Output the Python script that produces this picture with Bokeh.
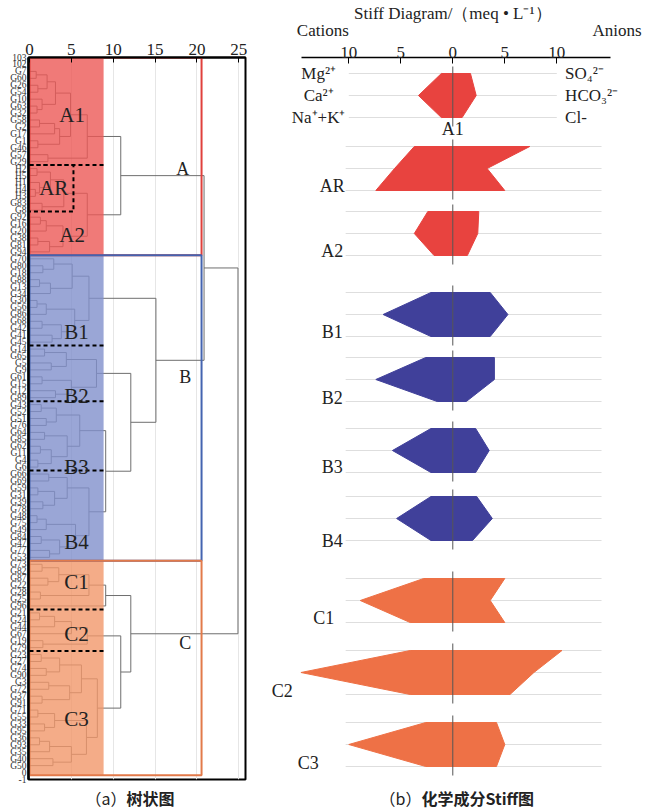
from bokeh.plotting import figure
from bokeh.layouts import row, column
from bokeh.models import Range1d, FixedTicker
from bokeh.embed import file_html
from bokeh.resources import INLINE
from bokeh.core.properties import value

SERIF = "Liberation Serif"
CJK = "Noto Sans CJK SC"

# ---------------- data: dendrogram ----------------
leaves_A1 = ["G7", "G60", "G26", "G54", "G10", "G63", "G32", "G58", "G2", "G17", "G1", "G46", "G57", "G29"]
leaves_AR = ["H2", "H5", "H1", "H4", "H3", "G83", "G8"]
leaves_A2 = ["G92", "G16", "G20", "G38", "G81", "G94"]
leaves_B1 = ["G70", "G80", "G18", "G88", "G13", "G34", "G30", "G56", "G86", "G68", "G42", "G41", "G45"]
leaves_B2 = ["G14", "G65", "G5", "G9", "G61", "G15", "G12", "G89"]
leaves_B3 = ["G43", "G52", "G51", "G76", "G64", "G85", "G62", "G11", "G4", "G6"]
leaves_B4 = ["G66", "G69", "G59", "G31", "G39", "G78", "G48", "G75", "G49", "G84", "G47", "G77", "G53"]
leaves_C1 = ["G73", "G82", "G87", "G22", "G28", "G25", "G96"]
leaves_C2 = ["G21", "G24", "G44", "G67", "G19", "G79"]
leaves_C3 = ["G23", "G27", "G74", "G90", "G3", "G72", "G37", "G91", "G71", "G55", "G33", "G95", "G36", "G93", "G35", "G40", "G50"]

# nested merges: [distance, left, right]
tree_A1 = [6.9, [4.9, [3.1, [2.1, [0.8, "G7", "G60"], [1.0, "G26", "G54"]], [1.5, "G10", [0.9, "G63", "G32"]]],
                 [3.6, [3.0, [1.2, "G58", "G2"], "G17"], [1.0, "G1", "G46"]]],
           [2.2, "G57", "G29"]]
tree_AR = [4.1, [2.5, [0.9, "H2", "H5"], [1.2, "H1", [0.7, "H4", "H3"]]], [1.5, "G83", "G8"]]
tree_A2 = [4.0, [2.0, [1.3, "G92", "G16"], "G20"], [2.4, [1.0, "G38", "G81"], "G94"]]
tree_B1 = [7.1, [5.1, [2.9, "G70", [1.6, "G80", "G18"]], [2.5, [1.2, "G88", "G13"], "G34"]],
           [5.4, [2.0, [0.9, "G30", "G56"], "G86"], [3.8, [1.5, "G68", "G42"], [2.7, "G41", "G45"]]]]
tree_B2 = [8.0, [4.4, [1.8, "G14", "G65"], [2.6, "G5", "G9"]], [5.0, [1.5, "G61", "G15"], [3.1, "G12", "G89"]]]
tree_B3 = [6.0, [3.2, [1.4, "G43", "G52"], [2.0, "G51", "G76"]],
           [4.5, [1.8, "G64", "G85"], [2.6, [1.3, "G62", "G11"], [1.0, "G4", "G6"]]]]
tree_B4 = [7.1, [4.5, [2.3, "G66", "G69"], [3.0, [1.0, "G59", "G31"], [1.6, "G39", "G78"]]],
           [5.5, [2.0, [0.9, "G48", "G75"], "G49"], [3.6, [1.4, "G84", "G47"], [2.4, "G77", "G53"]]]]
tree_C1 = [9.1, [7.1, [3.5, [1.5, "G73", "G82"], [2.2, "G87", "G22"]], [1.3, "G28", "G25"]], "G96"]
tree_C2 = [6.9, [5.0, [3.0, [1.2, "G21", "G24"], "G44"], "G67"], [1.6, "G19", "G79"]]
tree_C3 = [8.1, [6.2, [3.6, [1.4, "G23", "G27"], [2.0, "G74", "G90"]], [4.8, [2.3, "G3", "G72"], [1.5, "G37", "G91"]]],
           [6.8, [3.0, [1.0, "G71", "G55"], [1.8, "G33", "G95"]], [5.0, [2.4, [1.2, "G36", "G93"], "G35"], [2.8, "G40", "G50"]]]]
h_ARA2, h_A, h_B34, h_B234, h_B, h_C23, h_C, h_AB, h_root = 6.9, 10.9, 9.1, 12.1, 15.1, 10.9, 12.1, 20.85, 24.9

tree = [h_root,
        [h_AB,
         [h_A, tree_A1, [h_ARA2, tree_AR, tree_A2]],
         [h_B, tree_B1, [h_B234, tree_B2, [h_B34, tree_B3, tree_B4]]]],
        [h_C, tree_C1, [h_C23, tree_C2, tree_C3]]]

groups_leaves = [leaves_A1, leaves_AR, leaves_A2, leaves_B1, leaves_B2, leaves_B3, leaves_B4,
                 leaves_C1, leaves_C2, leaves_C3]
all_leaves = [l for g in groups_leaves for l in g]
n = len(all_leaves)  # 101
leaf_pos = {name: n - i for i, name in enumerate(all_leaves)}

# ---------------- data: Stiff diagram ----------------
stiff_groups = ["A1", "AR", "A2", "B1", "B2", "B3", "B4", "C1", "C2", "C3"]
mg = [1.1, 3.7, 2.4, 2.1, 2.6, 2.1, 2.1, 2.8, 4.1, 2.6]
ca = [3.3, 5.6, 3.7, 6.7, 7.4, 5.8, 5.4, 8.9, 14.6, 10.0]
nak = [1.1, 7.4, 1.8, 2.1, 1.5, 2.1, 2.1, 4.1, 4.1, 2.6]
so4 = [1.7, 7.4, 2.5, 3.6, 4.0, 2.2, 2.3, 5.0, 10.5, 4.2]
hco3 = [2.25, 3.3, 2.4, 5.3, 4.0, 3.5, 3.8, 3.6, 7.8, 5.0]
cl = [0.9, 5.0, 1.4, 3.6, 1.3, 2.2, 1.9, 5.0, 5.5, 4.2]
stiff_ticks = [-10, -5, 0, 5, 10]

# ---------------- styles / layout ----------------
COL_A, COL_B, COL_C = "#E8433F", "#40409A", "#EE7146"
SHADE_A, SHADE_B, SHADE_C = "#EC5956", "#8190CC", "#F1976A"
BOX_A, BOX_B, BOX_C = "#E0403C", "#4464B0", "#E27A4A"
TXT = "#222222"

# ======== left: dendrogram ========
p1 = figure(width=258, height=785, x_range=Range1d(-0.12, 25.8), y_range=Range1d(-1, 103),
            x_axis_location="above", output_backend="svg", toolbar_location=None,
            min_border_left=28, min_border_right=13, min_border_top=57, min_border_bottom=6)
p1.outline_line_color = "black"
p1.outline_line_width = 2
p1.ygrid.visible = False
p1.xgrid.ticker = FixedTicker(ticks=[5, 10, 15, 20, 25])
p1.xgrid.grid_line_color = "#e6e6e6"

p1.xaxis.ticker = FixedTicker(ticks=[0, 5, 10, 15, 20, 25])
p1.xaxis.major_label_text_font = SERIF
p1.xaxis.major_label_text_font_size = "17px"
p1.xaxis.major_label_text_color = TXT
p1.xaxis.major_tick_in = 5
p1.xaxis.major_tick_out = 0
p1.xaxis.minor_tick_line_color = None
p1.xaxis.axis_line_width = 2
p1.xaxis.major_label_standoff = 3

ytick_vals = list(range(-1, n + 3))
overrides = {v: str(v) for v in ytick_vals}
for name, v in leaf_pos.items():
    overrides[v] = name
p1.yaxis.ticker = FixedTicker(ticks=ytick_vals)
p1.yaxis.major_label_overrides = overrides
p1.yaxis.major_label_text_font = SERIF
p1.yaxis.major_label_text_font_size = "9.5px"
p1.yaxis.major_label_text_color = "#333333"
p1.yaxis.major_tick_in = 0
p1.yaxis.major_tick_out = 0
p1.yaxis.minor_tick_line_color = None
p1.yaxis.axis_line_width = 2.5
p1.yaxis.major_label_standoff = 2

segs = {"x0": [], "y0": [], "x1": [], "y1": []}


def build(node):
    if isinstance(node, str):
        return float(leaf_pos[node]), 0.0
    h, a, b = node
    ya, ha = build(a)
    yb, hb = build(b)
    for x0, y0, x1, y1 in ((ha, ya, h, ya), (hb, yb, h, yb), (h, ya, h, yb)):
        segs["x0"].append(x0); segs["y0"].append(y0); segs["x1"].append(x1); segs["y1"].append(y1)
    return (ya + yb) / 2.0, h


build(tree)
p1.segment(x0="x0", y0="y0", x1="x1", y1="y1", source=segs, line_color="#6e6e6e", line_width=1)

nA = len(leaves_A1) + len(leaves_AR) + len(leaves_A2)
nB = len(leaves_B1) + len(leaves_B2) + len(leaves_B3) + len(leaves_B4)
yA_bot = n - nA + 0.5
yB_bot = yA_bot - nB
shade_right = 8.85
p1.quad(left=0, right=shade_right, bottom=yA_bot, top=103, fill_color=SHADE_A, fill_alpha=0.8, line_color=None)
p1.quad(left=0, right=shade_right, bottom=yB_bot, top=yA_bot, fill_color=SHADE_B, fill_alpha=0.8, line_color=None)
p1.quad(left=0, right=shade_right, bottom=-0.4, top=yB_bot, fill_color=SHADE_C, fill_alpha=0.8, line_color=None)
p1.quad(left=0, right=20.55, bottom=yA_bot, top=103, fill_color=None, line_color=BOX_A, line_width=2)
p1.quad(left=0, right=20.55, bottom=yB_bot, top=yA_bot, fill_color=None, line_color=BOX_B, line_width=2)
p1.quad(left=0, right=20.55, bottom=-0.4, top=yB_bot, fill_color=None, line_color=BOX_C, line_width=2)

cum = []
c = n + 0.5
for g in groups_leaves:
    c -= len(g)
    cum.append(c)
sep_idx = [0, 3, 4, 5, 7, 8]  # after A1, B1, B2, B3, C1, C2
p1.segment(x0=[0] * len(sep_idx), x1=[shade_right] * len(sep_idx), y0=[cum[i] for i in sep_idx],
           y1=[cum[i] for i in sep_idx], line_color="black", line_width=2, line_dash="4 3")
ar_top, ar_bot = cum[0], cum[1] + 0.3
p1.multi_line(xs=[[0, 5.25, 5.25, 0]], ys=[[ar_top, ar_top, ar_bot, ar_bot]], line_color="black",
              line_width=2, line_dash="4 3")

sub_labels = ["A1", "AR", "A2", "B1", "B2", "B3", "B4", "C1", "C2", "C3"]
sub_lx = [5.1, 2.9, 5.1, 5.6, 5.6, 5.6, 5.6, 5.6, 5.6, 5.6]
sub_ly = [94.7, 84.2, 77.4, 63.4, 54.2, 44.0, 33.2, 27.4, 20.0, 7.7]
p1.text(x=sub_lx, y=sub_ly, text=sub_labels, text_font=value(SERIF), text_font_size="21px", text_color=TXT,
        text_align="center", text_baseline="middle")
p1.text(x=[18.3, 18.6, 18.6], y=[86.9, 57.0, 18.6], text=["A", "B", "C"], text_font=value(SERIF),
        text_font_size="18px", text_color=TXT, text_align="center", text_baseline="middle")

# ======== right: header + Stiff diagram ========
XR = (-18.68, 18.24)
hdr = figure(width=384, height=40, x_range=Range1d(*XR), y_range=Range1d(40, 0),
             output_backend="svg", toolbar_location=None, min_border=0)
hdr.axis.visible = False
hdr.grid.visible = False
hdr.outline_line_color = None
hdr.text(x=[0], y=[13], text=["Stiff Diagram/（meq • L⁻¹）"], text_font=value(SERIF), text_font_size="17px",
         text_align="center", text_baseline="middle", text_color=TXT)
hdr.text(x=[-12.5, 15.8], y=[30, 30], text=["Cations", "Anions"], text_font=value(SERIF), text_font_size="17px",
         text_align="center", text_baseline="middle", text_color=TXT)

p2 = figure(width=384, height=745, x_range=Range1d(*XR), y_range=Range1d(779, 57),
            x_axis_location="above", output_backend="svg", toolbar_location=None,
            min_border_left=0, min_border_right=0, min_border_top=17, min_border_bottom=6)
p2.outline_line_color = None
p2.grid.visible = False
p2.yaxis.visible = False
p2.xaxis.ticker = FixedTicker(ticks=stiff_ticks)
p2.xaxis.major_label_overrides = {t: str(abs(t)) for t in stiff_ticks}
p2.xaxis.bounds = (-14.5, 15.2)
p2.xaxis.major_label_text_font = SERIF
p2.xaxis.major_label_text_font_size = "17px"
p2.xaxis.major_label_text_color = TXT
p2.xaxis.major_tick_in = 6
p2.xaxis.major_tick_out = 0
p2.xaxis.minor_tick_line_color = None
p2.xaxis.axis_line_width = 1.5
p2.xaxis.major_label_standoff = 0

row_gap = 22
centers = [95, 168, 233, 314, 379, 450, 518, 600, 672, 744]
colors = [COL_A] * 3 + [COL_B] * 4 + [COL_C] * 3

grid_x0 = [-10] + [-10.3] * 9
grid_x1 = [10] + [14.3] * 9
gx0, gx1, gy = [], [], []
for c, a, b in zip(centers, grid_x0, grid_x1):
    for k in (-1, 0, 1):
        gx0.append(a); gx1.append(b); gy.append(c + k * row_gap)
p2.segment(x0=gx0, x1=gx1, y0=gy, y1=gy, line_color="#dedede", line_width=1)

xs, ys = [], []
for i, c in enumerate(centers):
    xs.append([-mg[i], -ca[i], -nak[i], cl[i], hco3[i], so4[i]])
    ys.append([c - row_gap, c, c + row_gap, c + row_gap, c, c - row_gap])
p2.patches(xs=xs, ys=ys, fill_color=colors, line_color=colors, line_width=1)

p2.segment(x0=[0] * 10, x1=[0] * 10, y0=[c - 29 for c in centers], y1=[c + 31 for c in centers],
           line_color="#555555", line_width=1)

lab_x = [0, -11.6, -11.6, -11.6, -11.6, -11.6, -11.6, -12.4, -16.4, -13.9]
lab_dy = [33, 17, 17, 17, 18, 16, 22, 17, 18, 18]
p2.text(x=lab_x, y=[c + d for c, d in zip(centers, lab_dy)], text=stiff_groups, text_font=value(SERIF),
        text_font_size="18px", text_color=TXT, text_align="center", text_baseline="middle")

p2.text(x=[-12.9] * 3, y=[centers[0] + k * row_gap for k in (-1, 0, 1)], text=["Mg²⁺", "Ca²⁺", "Na⁺+K⁺"],
        text_font=value(SERIF), text_font_size="17px", text_align="center", text_baseline="middle",
        text_color=TXT)
p2.text(x=[10.8] * 3, y=[centers[0] + k * row_gap for k in (-1, 0, 1)], text=["SO₄²⁻", "HCO₃²⁻", "Cl-"],
        text_font=value(SERIF), text_font_size="17px", text_align="left", text_baseline="middle",
        text_color=TXT)

# ======== footer captions ========
ftr = figure(width=642, height=23, x_range=Range1d(0, 642), y_range=Range1d(23, 0),
             output_backend="svg", toolbar_location=None, min_border=0)
ftr.axis.visible = False
ftr.grid.visible = False
ftr.outline_line_color = None
ftr.text(x=[126, 421], y=[12, 12], text=["（a）", "（b）"], text_font=value(CJK), text_font_size="16px",
         text_align="right", text_baseline="middle", text_color=TXT)
ftr.text(x=[126, 421], y=[12, 12], text=["树状图", "化学成分Stiff图"], text_font=value(CJK),
         text_font_size="16px", text_font_style="bold", text_align="left", text_baseline="middle",
         text_color=TXT)

layout = column(row(p1, column(hdr, p2, spacing=0), spacing=0), ftr, spacing=0)
open("out.html", "w").write(file_html(layout, INLINE))
